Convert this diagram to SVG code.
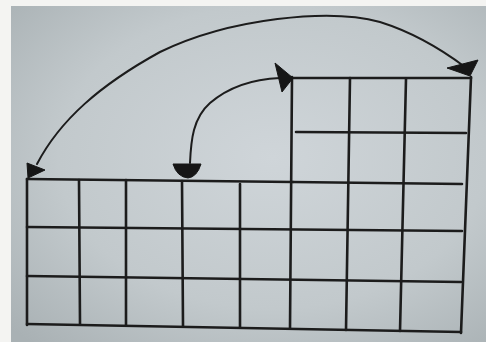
<svg xmlns="http://www.w3.org/2000/svg" width="486" height="342" viewBox="0 0 486 342">
<defs>
<radialGradient id="paper" cx="0.55" cy="0.45" r="0.75">
<stop offset="0" stop-color="#cfd5d9"/>
<stop offset="0.6" stop-color="#c2c9cc"/>
<stop offset="1" stop-color="#a9b1b4"/>
</radialGradient>
<style>
.ln{stroke:#1c1c1c;stroke-width:2.6;fill:none;stroke-linecap:round}
.arc{stroke:#1c1c1c;stroke-width:2;fill:none;stroke-linecap:round}
.hd{fill:#161616;stroke:#161616;stroke-width:1;stroke-linejoin:round}
</style>
</defs>
<rect width="486" height="342" fill="#f4f4f2"/>
<rect x="11" y="6" width="475" height="336" fill="url(#paper)"/>
<g id="grid-left">
<line class="ln" x1="27" y1="179" x2="293" y2="182"/>
<line class="ln" x1="27" y1="227" x2="462" y2="231"/>
<line class="ln" x1="27" y1="276" x2="461" y2="282"/>
<line class="ln" x1="27" y1="324" x2="461" y2="332"/>
<line class="ln" x1="27" y1="179" x2="27" y2="325"/>
<line class="ln" x1="79" y1="180" x2="80" y2="324"/>
<line class="ln" x1="126" y1="180" x2="126" y2="325"/>
<line class="ln" x1="182" y1="181" x2="183" y2="326"/>
<line class="ln" x1="240" y1="184" x2="240" y2="327"/>
</g>
<g id="grid-right">
<line class="ln" x1="292" y1="78" x2="471" y2="78"/>
<line class="ln" x1="296" y1="132" x2="466" y2="133"/>
<line class="ln" x1="293" y1="182" x2="462" y2="184"/>
<line class="ln" x1="292" y1="77" x2="290" y2="328"/>
<line class="ln" x1="350" y1="78" x2="346" y2="330"/>
<line class="ln" x1="406" y1="79" x2="400" y2="331"/>
<line class="ln" x1="471" y1="77" x2="461" y2="333"/>
</g>
<g id="connectors">
<path class="arc" d="M37 164 C 60 120, 100 85, 160 52 C 230 18, 330 8, 380 22 C 415 33, 445 52, 465 67"/>
<polygon class="hd" points="27,163 45,170 28,178"/>
<polygon class="hd" points="447,68 478,60 470,76"/>
<path class="arc" d="M190 163 C 191 140, 193 118, 210 103 C 230 86, 255 79, 280 78"/>
<path class="hd" d="M173 164 L201 164 Q197 177 188 178 Q177 177 173 164 Z"/>
<polygon class="hd" points="275,63 293,78 282,92"/>
</g>
</svg>
